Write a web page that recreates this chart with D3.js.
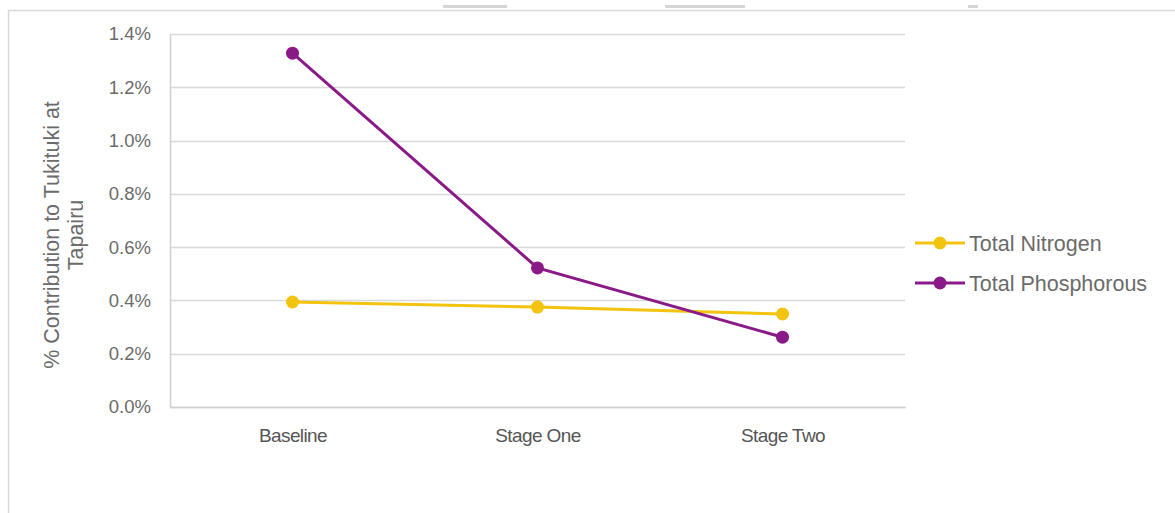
<!DOCTYPE html>
<html>
<head>
<meta charset="utf-8">
<script src="https://cdn.jsdelivr.net/npm/d3@7"></script>
<style>
  body { margin: 0; background: #fff; }
  text { font-family: Arial, "Liberation Sans", sans-serif; }
</style>
</head>
<body>
<div id="chart"></div>
<script>
// chart data
var stages = ["Baseline", "Stage One", "Stage Two"];
var nitrogen = [0.394, 0.375, 0.349];
var phosphorous = [1.328, 0.522, 0.262];
var yTicks = [0, 0.2, 0.4, 0.6, 0.8, 1.0, 1.2, 1.4];
var seriesNames = ["Total Nitrogen", "Total Phosphorous"];
var seriesColors = ["#f2c40f", "#8a1a88"];

var width = 1175, height = 513;
var plotLeft = 170, plotRight = 905, plotTop = 34, plotBottom = 407;

var svg = d3.select("#chart").append("svg")
    .attr("width", width)
    .attr("height", height);

// outer frame of the screenshot
svg.append("path")
    .attr("d", "M8.5,513 L8.5,10.5 L1175,10.5")
    .attr("fill", "none")
    .attr("stroke", "#d9d9d9")
    .attr("stroke-width", 1.5);
// little tab marks at the top edge
[[443, 64], [665, 80], [968, 10]].forEach(function(t) {
    svg.append("rect").attr("x", t[0]).attr("y", 5).attr("width", t[1]).attr("height", 3)
        .attr("fill", "#d6d6d6");
});

var xScale = d3.scalePoint()
    .domain(stages)
    .range([plotLeft, plotRight])
    .padding(0.5);

var yScale = d3.scaleLinear()
    .domain([0, 1.4])
    .range([plotBottom, plotTop]);

// gridlines
svg.append("g")
    .selectAll("line")
    .data(yTicks)
    .enter()
    .append("line")
    .attr("x1", plotLeft)
    .attr("x2", plotRight)
    .attr("y1", function(d) { return Math.round(yScale(d)) + 0.5; })
    .attr("y2", function(d) { return Math.round(yScale(d)) + 0.5; })
    .attr("stroke", "#d9d9d9")
    .attr("stroke-width", 1.5);

// y axis
var yAxis = d3.axisLeft(yScale)
    .tickValues(yTicks)
    .tickSize(0)
    .tickPadding(19)
    .tickFormat(function(d) { return d.toFixed(1) + "%"; });
var yG = svg.append("g")
    .attr("transform", "translate(" + plotLeft + ",0)")
    .call(yAxis);
yG.select(".domain").attr("stroke", "#d0d0d0").attr("stroke-width", 1.5);
yG.selectAll("text").attr("fill", "#6b6b6b").attr("font-size", 18.5);

// x axis
var xAxis = d3.axisBottom(xScale).tickSize(0).tickPadding(22);
var xG = svg.append("g")
    .attr("transform", "translate(0," + plotBottom + ")")
    .call(xAxis);
xG.select(".domain").attr("stroke", "#d0d0d0").attr("stroke-width", 1.5);
xG.selectAll("text").attr("fill", "#555").attr("font-size", 19)
    .style("letter-spacing", "-0.6px");

// y axis title
var yTitle = svg.append("text")
    .attr("transform", "translate(59,235)rotate(-90)")
    .attr("text-anchor", "middle")
    .attr("fill", "#6b6b6b")
    .attr("font-size", 21.5);
yTitle.append("tspan").attr("x", 0).attr("dy", 0).text("% Contribution to Tukituki at");
yTitle.append("tspan").attr("x", 0).attr("dy", 24).text("Tapairu");

// series lines and markers
var allSeries = [nitrogen, phosphorous];
var line = d3.line()
    .x(function(d, i) { return xScale(stages[i]); })
    .y(function(d) { return yScale(d); });

allSeries.forEach(function(vals, s) {
    svg.append("path")
        .datum(vals)
        .attr("d", line)
        .attr("fill", "none")
        .attr("stroke", seriesColors[s])
        .attr("stroke-width", 3);
    svg.append("g")
        .selectAll("circle")
        .data(vals)
        .enter()
        .append("circle")
        .attr("cx", function(d, i) { return xScale(stages[i]); })
        .attr("cy", function(d) { return yScale(d); })
        .attr("r", 6.5)
        .attr("fill", seriesColors[s]);
});

// legend
var legend = svg.append("g");
seriesNames.forEach(function(name, i) {
    var ly = 243 + i * 40;
    legend.append("line")
        .attr("x1", 915).attr("x2", 965)
        .attr("y1", ly).attr("y2", ly)
        .attr("stroke", seriesColors[i])
        .attr("stroke-width", 3);
    legend.append("circle")
        .attr("cx", 940).attr("cy", ly).attr("r", 6.5)
        .attr("fill", seriesColors[i]);
    legend.append("text")
        .attr("x", 969).attr("y", ly + 7.5)
        .attr("fill", "#6b6b6b")
        .attr("font-size", 21.5)
        .text(name);
});
</script>
</body>
</html>
